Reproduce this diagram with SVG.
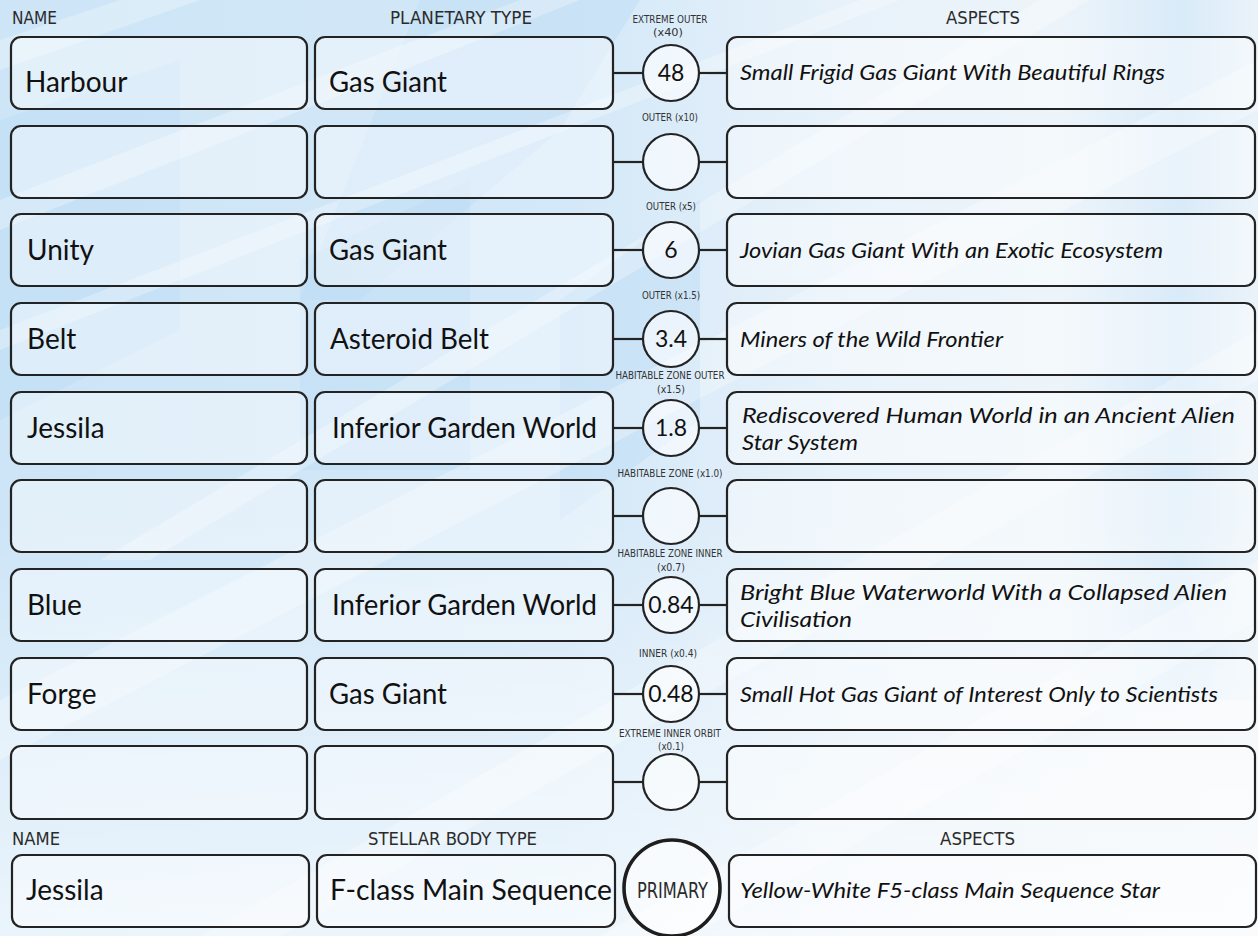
<svg xmlns="http://www.w3.org/2000/svg" width="1258" height="936" viewBox="0 0 1258 936">
<defs>
<linearGradient id="bg" x1="0" y1="0" x2="1" y2="0">
<stop offset="0" stop-color="#cde5f7"/>
<stop offset="0.45" stop-color="#d3e8f8"/>
<stop offset="0.68" stop-color="#e8f2fa"/>
<stop offset="1" stop-color="#f1f6fa"/>
</linearGradient>
<linearGradient id="fadeDown" x1="0" y1="0" x2="0" y2="1">
<stop offset="0.55" stop-color="#ffffff" stop-opacity="0"/>
<stop offset="1" stop-color="#ffffff" stop-opacity="0.6"/>
</linearGradient>
<linearGradient id="glow" x1="0" y1="0" x2="1" y2="0">
<stop offset="0" stop-color="#cfe6f8" stop-opacity="0"/>
<stop offset="0.6" stop-color="#cfe6f8" stop-opacity="0.7"/>
<stop offset="1" stop-color="#cfe6f8" stop-opacity="0.2"/>
</linearGradient>
<style>
.box{fill:#ffffff;fill-opacity:.42;stroke:#232323;stroke-width:2.2}
.orb{fill:#ffffff;fill-opacity:.6;stroke:#232323;stroke-width:2.2}
.prim{fill:#ffffff;fill-opacity:.6;stroke:#1e1e1e;stroke-width:3.6}
.conn line{stroke:#232323;stroke-width:2.2}
.hdr{font-family:"DejaVu Sans Condensed","DejaVu Sans",sans-serif;font-stretch:condensed;font-size:18px;fill:#2b2b2b}
.lbl{font-family:"DejaVu Sans Condensed","DejaVu Sans",sans-serif;font-stretch:condensed;font-size:11px;fill:#333333;text-anchor:middle}
.nm{font-family:Lato,"Open Sans",sans-serif;font-size:28px;fill:#111111}
.asp{font-family:Lato,"Open Sans",sans-serif;font-style:italic;font-size:22px;fill:#111111}
.num{font-family:Lato,"Open Sans",sans-serif;font-size:23px;fill:#111111;text-anchor:middle}
.streak{fill:#ffffff;fill-opacity:.28}
.blue{fill:#bcdcf4;fill-opacity:.45}
</style>
</defs>

<g id="background">
<rect width="1258" height="936" fill="url(#bg)"/>
<rect x="1060" y="0" width="198" height="700" fill="url(#glow)"/>
<polygon class="blue" points="420,0 640,0 560,130 360,300 300,300"/>
<polygon class="blue" points="300,260 470,180 470,470 300,470"/>
<polygon class="blue" points="0,120 180,60 180,330 0,420"/>
<polygon class="blue" points="560,300 700,200 700,420 560,520"/>
<polygon class="streak" points="0,40 120,0 200,0 0,70"/>
<polygon class="streak" points="0,200 520,0 580,0 0,230"/>
<polygon class="streak" points="0,330 860,0 900,0 0,350"/>
<polygon class="streak" points="100,560 1040,0 1090,0 150,560"/>
<polygon class="streak" points="0,700 1258,60 1258,110 0,760"/>
<polygon class="streak" points="200,936 1258,330 1258,380 280,936"/>
<polygon class="streak" points="600,936 1258,560 1258,620 690,936"/>
<rect width="1258" height="936" fill="url(#fadeDown)"/>
</g>

<g id="headers">
<text class="hdr" x="12" y="24" textLength="45" lengthAdjust="spacingAndGlyphs">NAME</text>
<text class="hdr" x="390" y="24" textLength="142" lengthAdjust="spacingAndGlyphs">PLANETARY TYPE</text>
<text class="hdr" x="946" y="24" textLength="74" lengthAdjust="spacingAndGlyphs">ASPECTS</text>
<text class="hdr" x="12" y="845" textLength="48" lengthAdjust="spacingAndGlyphs">NAME</text>
<text class="hdr" x="368" y="845" textLength="169" lengthAdjust="spacingAndGlyphs">STELLAR BODY TYPE</text>
<text class="hdr" x="940" y="845" textLength="75" lengthAdjust="spacingAndGlyphs">ASPECTS</text>
</g>

<g id="orbit-labels">
<text class="lbl" x="670" y="23" textLength="75" lengthAdjust="spacingAndGlyphs">EXTREME OUTER</text>
<text class="lbl" x="668" y="36" textLength="30" lengthAdjust="spacingAndGlyphs">(x40)</text>
<text class="lbl" x="670" y="121" textLength="56" lengthAdjust="spacingAndGlyphs">OUTER (x10)</text>
<text class="lbl" x="671" y="210" textLength="50" lengthAdjust="spacingAndGlyphs">OUTER (x5)</text>
<text class="lbl" x="671" y="299" textLength="58" lengthAdjust="spacingAndGlyphs">OUTER (x1.5)</text>
<text class="lbl" x="670" y="379" textLength="109" lengthAdjust="spacingAndGlyphs">HABITABLE ZONE OUTER</text>
<text class="lbl" x="671" y="393" textLength="28" lengthAdjust="spacingAndGlyphs">(x1.5)</text>
<text class="lbl" x="670" y="477" textLength="105" lengthAdjust="spacingAndGlyphs">HABITABLE ZONE (x1.0)</text>
<text class="lbl" x="670" y="557" textLength="105" lengthAdjust="spacingAndGlyphs">HABITABLE ZONE INNER</text>
<text class="lbl" x="671" y="571" textLength="28" lengthAdjust="spacingAndGlyphs">(x0.7)</text>
<text class="lbl" x="668" y="657" textLength="58" lengthAdjust="spacingAndGlyphs">INNER (x0.4)</text>
<text class="lbl" x="670" y="737" textLength="102" lengthAdjust="spacingAndGlyphs">EXTREME INNER ORBIT</text>
<text class="lbl" x="671" y="750" textLength="26" lengthAdjust="spacingAndGlyphs">(x0.1)</text>
</g>

<g class="conn" id="connectors">
<line x1="613" y1="73" x2="643" y2="73"/><line x1="699" y1="73" x2="727" y2="73"/>
<line x1="613" y1="162" x2="643" y2="162"/><line x1="699" y1="162" x2="727" y2="162"/>
<line x1="613" y1="250" x2="643" y2="250"/><line x1="699" y1="250" x2="727" y2="250"/>
<line x1="613" y1="339" x2="643" y2="339"/><line x1="699" y1="339" x2="727" y2="339"/>
<line x1="613" y1="428" x2="643" y2="428"/><line x1="699" y1="428" x2="727" y2="428"/>
<line x1="613" y1="516" x2="643" y2="516"/><line x1="699" y1="516" x2="727" y2="516"/>
<line x1="613" y1="605" x2="643" y2="605"/><line x1="699" y1="605" x2="727" y2="605"/>
<line x1="613" y1="694" x2="643" y2="694"/><line x1="699" y1="694" x2="727" y2="694"/>
<line x1="613" y1="782" x2="643" y2="782"/><line x1="699" y1="782" x2="727" y2="782"/>
</g>

<!-- Row 1 -->
<g id="name-1"><rect class="box" x="11" y="37" width="296" height="72" rx="10"/><text class="nm" x="25" y="92">Harbour</text></g>
<g id="type-1"><rect class="box" x="315" y="37" width="298" height="72" rx="10"/><text class="nm" x="329" y="92" textLength="118" lengthAdjust="spacingAndGlyphs">Gas Giant</text></g>
<g id="orbit-1"><circle class="orb" cx="671" cy="73" r="28"/><text class="num" x="671" y="81">48</text></g>
<g id="aspect-1"><rect class="box" x="727" y="37" width="528" height="72" rx="10"/><text class="asp" x="740" y="80" textLength="425" lengthAdjust="spacingAndGlyphs">Small Frigid Gas Giant With Beautiful Rings</text></g>

<!-- Row 2 -->
<g id="name-2"><rect class="box" x="11" y="126" width="296" height="72" rx="10"/></g>
<g id="type-2"><rect class="box" x="315" y="126" width="298" height="72" rx="10"/></g>
<g id="orbit-2"><circle class="orb" cx="671" cy="162" r="28"/></g>
<g id="aspect-2"><rect class="box" x="727" y="126" width="528" height="72" rx="10"/></g>

<!-- Row 3 -->
<g id="name-3"><rect class="box" x="11" y="214" width="296" height="72" rx="10"/><text class="nm" x="27" y="260">Unity</text></g>
<g id="type-3"><rect class="box" x="315" y="214" width="298" height="72" rx="10"/><text class="nm" x="329" y="260" textLength="118" lengthAdjust="spacingAndGlyphs">Gas Giant</text></g>
<g id="orbit-3"><circle class="orb" cx="671" cy="250" r="28"/><text class="num" x="671" y="258">6</text></g>
<g id="aspect-3"><rect class="box" x="727" y="214" width="528" height="72" rx="10"/><text class="asp" x="740" y="258" textLength="423" lengthAdjust="spacingAndGlyphs">Jovian Gas Giant With an Exotic Ecosystem</text></g>

<!-- Row 4 -->
<g id="name-4"><rect class="box" x="11" y="303" width="296" height="72" rx="10"/><text class="nm" x="27" y="349">Belt</text></g>
<g id="type-4"><rect class="box" x="315" y="303" width="298" height="72" rx="10"/><text class="nm" x="330" y="349" textLength="159" lengthAdjust="spacingAndGlyphs">Asteroid Belt</text></g>
<g id="orbit-4"><circle class="orb" cx="671" cy="339" r="28"/><text class="num" x="671" y="347">3.4</text></g>
<g id="aspect-4"><rect class="box" x="727" y="303" width="528" height="72" rx="10"/><text class="asp" x="740" y="347" textLength="263" lengthAdjust="spacingAndGlyphs">Miners of the Wild Frontier</text></g>

<!-- Row 5 -->
<g id="name-5"><rect class="box" x="11" y="392" width="296" height="72" rx="10"/><text class="nm" x="27" y="438">Jessila</text></g>
<g id="type-5"><rect class="box" x="315" y="392" width="298" height="72" rx="10"/><text class="nm" x="332" y="438" textLength="265" lengthAdjust="spacingAndGlyphs">Inferior Garden World</text></g>
<g id="orbit-5"><circle class="orb" cx="671" cy="428" r="28"/><text class="num" x="671" y="436">1.8</text></g>
<g id="aspect-5"><rect class="box" x="727" y="392" width="528" height="72" rx="10"/><text class="asp" x="742" y="423" textLength="493" lengthAdjust="spacingAndGlyphs">Rediscovered Human World in an Ancient Alien</text><text class="asp" x="742" y="450" textLength="116" lengthAdjust="spacingAndGlyphs">Star System</text></g>

<!-- Row 6 -->
<g id="name-6"><rect class="box" x="11" y="480" width="296" height="72" rx="10"/></g>
<g id="type-6"><rect class="box" x="315" y="480" width="298" height="72" rx="10"/></g>
<g id="orbit-6"><circle class="orb" cx="671" cy="516" r="28"/></g>
<g id="aspect-6"><rect class="box" x="727" y="480" width="528" height="72" rx="10"/></g>

<!-- Row 7 -->
<g id="name-7"><rect class="box" x="11" y="569" width="296" height="72" rx="10"/><text class="nm" x="27" y="615">Blue</text></g>
<g id="type-7"><rect class="box" x="315" y="569" width="298" height="72" rx="10"/><text class="nm" x="332" y="615" textLength="265" lengthAdjust="spacingAndGlyphs">Inferior Garden World</text></g>
<g id="orbit-7"><circle class="orb" cx="671" cy="605" r="28"/><text class="num" x="671" y="613">0.84</text></g>
<g id="aspect-7"><rect class="box" x="727" y="569" width="528" height="72" rx="10"/><text class="asp" x="740" y="600" textLength="487" lengthAdjust="spacingAndGlyphs">Bright Blue Waterworld With a Collapsed Alien</text><text class="asp" x="740" y="627" textLength="112" lengthAdjust="spacingAndGlyphs">Civilisation</text></g>

<!-- Row 8 -->
<g id="name-8"><rect class="box" x="11" y="658" width="296" height="72" rx="10"/><text class="nm" x="27" y="704">Forge</text></g>
<g id="type-8"><rect class="box" x="315" y="658" width="298" height="72" rx="10"/><text class="nm" x="329" y="704" textLength="118" lengthAdjust="spacingAndGlyphs">Gas Giant</text></g>
<g id="orbit-8"><circle class="orb" cx="671" cy="694" r="28"/><text class="num" x="671" y="702">0.48</text></g>
<g id="aspect-8"><rect class="box" x="727" y="658" width="528" height="72" rx="10"/><text class="asp" x="740" y="702" textLength="478" lengthAdjust="spacingAndGlyphs">Small Hot Gas Giant of Interest Only to Scientists</text></g>

<!-- Row 9 -->
<g id="name-9"><rect class="box" x="11" y="746" width="296" height="73" rx="10"/></g>
<g id="type-9"><rect class="box" x="315" y="746" width="298" height="73" rx="10"/></g>
<g id="orbit-9"><circle class="orb" cx="671" cy="782" r="28"/></g>
<g id="aspect-9"><rect class="box" x="727" y="746" width="528" height="73" rx="10"/></g>

<!-- Star row -->
<g id="star-name"><rect class="box" x="12" y="855" width="297" height="72" rx="10"/><text class="nm" x="26" y="900">Jessila</text></g>
<g id="star-type"><rect class="box" x="317" y="855" width="298" height="72" rx="10"/><text class="nm" x="330" y="900" textLength="282" lengthAdjust="spacingAndGlyphs">F-class Main Sequence</text></g>
<g id="star-primary"><circle class="prim" cx="672" cy="888" r="48"/><text class="hdr" x="637" y="898" textLength="71" lengthAdjust="spacingAndGlyphs" style="font-size:21px">PRIMARY</text></g>
<g id="star-aspect"><rect class="box" x="729" y="855" width="527" height="72" rx="10"/><text class="asp" x="740" y="898" textLength="420" lengthAdjust="spacingAndGlyphs">Yellow-White F5-class Main Sequence Star</text></g>
</svg>
